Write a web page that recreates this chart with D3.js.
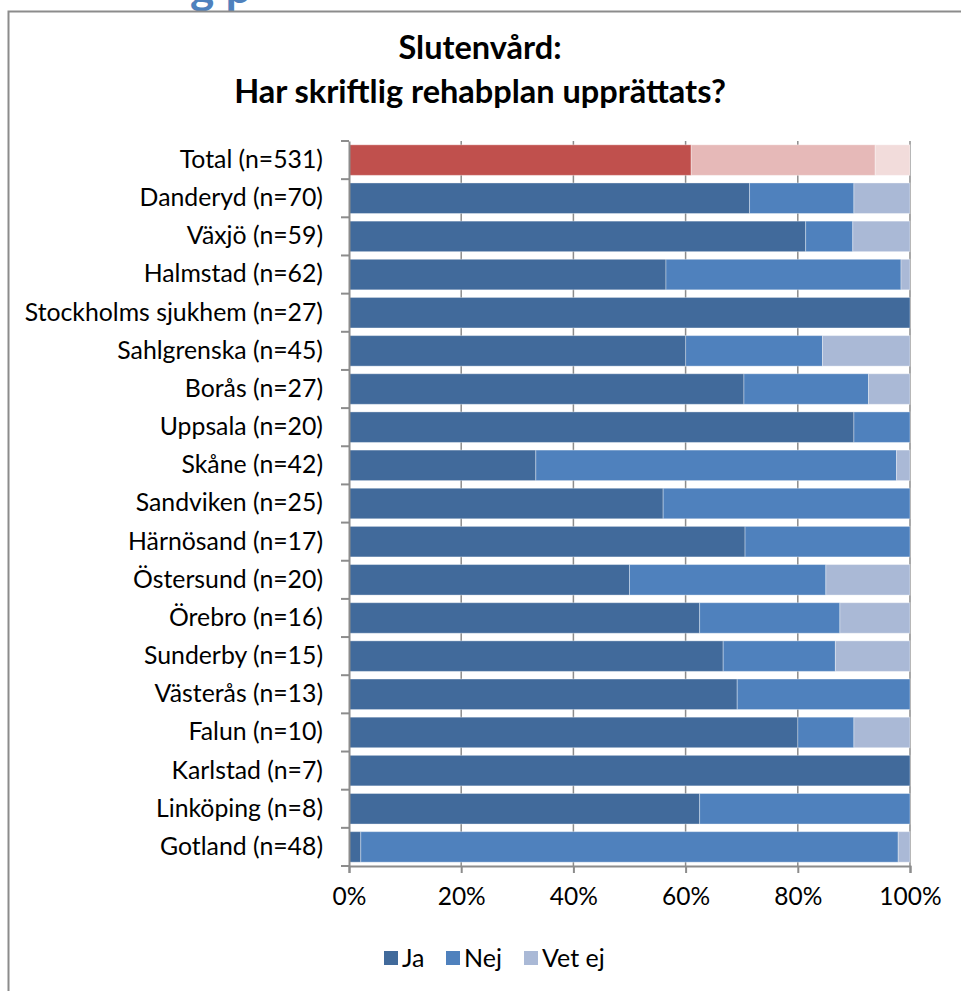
<!DOCTYPE html>
<html>
<head>
<meta charset="utf-8">
<script src="https://cdn.jsdelivr.net/npm/d3@7"></script>
<style>
  body { margin: 0; background: #fff; }
  svg { display: block; font-family: Lato, "Open Sans", sans-serif; }
</style>
</head>
<body>
<div id="chart"></div>
<script>
// categories and shares (percent)
const categories = [
    "Total (n=531)", "Danderyd (n=70)", "Växjö (n=59)", "Halmstad (n=62)",
    "Stockholms sjukhem (n=27)", "Sahlgrenska (n=45)", "Borås (n=27)",
    "Uppsala (n=20)", "Skåne (n=42)", "Sandviken (n=25)", "Härnösand (n=17)",
    "Östersund (n=20)", "Örebro (n=16)", "Sunderby (n=15)", "Västerås (n=13)",
    "Falun (n=10)", "Karlstad (n=7)", "Linköping (n=8)", "Gotland (n=48)"
];
const ja    = [61.0, 71.4, 81.4, 56.5, 100, 60.0, 70.4, 90, 33.3, 56, 70.6, 50, 62.5, 66.7, 69.2, 80, 100, 62.5, 2.1];
const nej   = [32.8, 18.6, 8.4, 41.9, 0, 24.4, 22.2, 10, 64.3, 44, 29.4, 35, 25.0, 20.0, 30.8, 10, 0, 37.5, 95.8];
const vetEj = [6.2, 10.0, 10.2, 1.6, 0, 15.6, 7.4, 0, 2.4, 0, 0, 15, 12.5, 13.3, 0, 10, 0, 0, 2.1];
const seriesNames = ["Ja", "Nej", "Vet ej"];
const xTicks = [0, 20, 40, 60, 80, 100];

const blueColors = ["#416a9b", "#4f81bd", "#aab9d6"];
const redColors = ["#c0504d", "#e6b9b8", "#f2dcdb"];

const W = 961, H = 991;
const plot = { left: 349, right: 910, top: 141, bottom: 866 };

const svg = d3.select("#chart").append("svg")
    .attr("width", W)
    .attr("height", H);

// heading fragment above the frame (cut off in the original)
svg.append("text")
    .attr("x", 190).attr("y", 3)
    .attr("font-size", 46).attr("font-weight", "bold")
    .attr("fill", "#4f81bd")
    .text("g p");

// frame
svg.append("path")
    .attr("d", `M8.5,${H + 2}V11.5H${W + 2}`)
    .attr("fill", "none")
    .attr("stroke", "#8c8c8c")
    .attr("stroke-width", 2);

// title
const title = svg.append("text")
    .attr("text-anchor", "middle")
    .attr("font-weight", "bold")
    .attr("font-size", 32.5)
    .attr("fill", "#000");
title.append("tspan").attr("x", 480).attr("y", 59).text("Slutenvård:");
title.append("tspan").attr("x", 480).attr("y", 103).text("Har skriftlig rehabplan upprättats?");

const x = d3.scaleLinear().domain([0, 100]).range([plot.left, plot.right]);
const y = d3.scaleBand().domain(categories).range([plot.top, plot.bottom]).paddingInner(0.2).paddingOuter(0.1);

// gridlines
svg.append("g")
    .selectAll("line")
    .data(xTicks.slice(1))
    .join("line")
    .attr("x1", d => x(d)).attr("x2", d => x(d))
    .attr("y1", plot.top).attr("y2", plot.bottom)
    .attr("stroke", "#8c8c8c")
    .attr("stroke-width", 1.5);

// stacked bars
const rows = categories.map((c, i) => ({ cat: c, vals: [ja[i], nej[i], vetEj[i]] }));
const segs = [];
rows.forEach((r, i) => {
    let acc = 0;
    r.vals.forEach((v, k) => {
        if (v > 0) segs.push({ cat: r.cat, k, x0: acc, x1: acc + v, total: i === 0 });
        acc += v;
    });
});

svg.append("g")
    .selectAll("rect")
    .data(segs)
    .join("rect")
    .attr("x", d => x(d.x0))
    .attr("width", d => x(Math.min(d.x1, 100)) - x(d.x0))
    .attr("y", d => y(d.cat))
    .attr("height", y.bandwidth())
    .attr("fill", d => d.total ? redColors[d.k] : blueColors[d.k])
    .attr("stroke", "rgba(255,255,255,0.35)")
    .attr("stroke-width", 1);

// y axis
const yAxis = svg.append("g")
    .attr("transform", `translate(${plot.left},0)`)
    .call(d3.axisLeft(y).tickSize(0).tickPadding(26));
yAxis.select(".domain").attr("stroke", "#8c8c8c").attr("stroke-width", 2);
yAxis.selectAll("text").attr("font-size", 24.8).attr("fill", "#000").attr("font-family", "Lato");

// category boundary ticks
const step = y.step();
svg.append("g")
    .selectAll("line")
    .data(d3.range(categories.length + 1))
    .join("line")
    .attr("x1", plot.left - 8).attr("x2", plot.left)
    .attr("y1", i => plot.top + i * step).attr("y2", i => plot.top + i * step)
    .attr("stroke", "#8c8c8c")
    .attr("stroke-width", 2);

// x axis
const xAxis = svg.append("g")
    .attr("transform", `translate(0,${plot.bottom})`)
    .call(d3.axisBottom(x).tickValues(xTicks).tickSize(7).tickPadding(15).tickFormat(d => d + "%"));
xAxis.select(".domain").attr("stroke", "#8c8c8c").attr("stroke-width", 2);
xAxis.selectAll(".tick line").attr("stroke", "#8c8c8c").attr("stroke-width", 2);
xAxis.selectAll("text").attr("font-size", 24.5).attr("fill", "#000").attr("font-family", "Lato");

// legend
const legendX = [384, 446, 524];
const legend = svg.append("g")
    .selectAll("g")
    .data(seriesNames)
    .join("g")
    .attr("transform", (d, i) => `translate(${legendX[i]},951)`);
legend.append("rect")
    .attr("width", 14).attr("height", 14)
    .attr("fill", (d, i) => blueColors[i]);
legend.append("text")
    .attr("x", 18).attr("y", 16)
    .attr("font-size", 25)
    .attr("fill", "#000")
    .text(d => d);
</script>
</body>
</html>
